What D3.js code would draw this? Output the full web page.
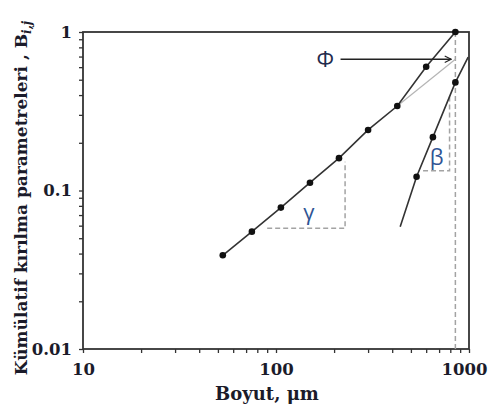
<!DOCTYPE html>
<html>
<head>
<meta charset="utf-8">
<script src="https://cdn.jsdelivr.net/npm/d3@7"></script>
<style>
  body { margin: 0; background: #fff; }
  svg { display: block; }
</style>
</head>
<body>
<div id="chart"></div>
<script>
// sieve sizes (um) and cumulative breakage parameters
var sizes = [53, 75, 106, 150, 212, 300, 425, 600, 850];
var bValues = [0.039, 0.055, 0.078, 0.112, 0.160, 0.241, 0.341, 0.604, 1.0];

// steep part (beta) points and the drawn line through them
var betaSizes = [535, 650, 850];
var betaValues = [0.122, 0.217, 0.481];
var betaLineX = [440, 535, 650, 850, 990];
var betaLineY = [0.059, 0.122, 0.217, 0.481, 0.695];

// extrapolated fine part, phi intercept
var phiLineX = [425, 850];
var phiLineY = [0.341, 0.673];
var phiValue = 0.673;
var topSize = 850;

// slope triangles
var gammaTriX = [90, 228, 228];
var gammaTriY = [0.0577, 0.0577, 0.152];
var betaTriX = [578, 793, 793];
var betaTriY = [0.133, 0.133, 0.395];

var xTicks = [10, 100, 1000];
var yTicks = [0.01, 0.1, 1];

var width = 490, height = 408;
var margin = {top: 32, right: 21, bottom: 59, left: 83};
var w = width - margin.left - margin.right,
    h = height - margin.top - margin.bottom;

var svg = d3.select('#chart').append('svg')
  .attr('width', width)
  .attr('height', height);

var g = svg.append('g')
  .attr('transform', 'translate(' + margin.left + ',' + margin.top + ')');

var x = d3.scaleLog().domain([10, 1000]).range([0, w]);
var y = d3.scaleLog().domain([0.01, 1]).range([h, 0]);

var serif = '"DejaVu Serif", serif';
var textClr = '#1b1b2a';

// minor ticks 2..9 in each decade
function minorTicks(lo, hi) {
  var out = [];
  for (var d = lo; d < hi; d *= 10) {
    for (var k = 1; k < 10; k++) out.push(d * k);
  }
  out.push(hi);
  return out;
}

var xAxis = d3.axisBottom(x)
  .tickValues(minorTicks(10, 1000))
  .tickSize(4)
  .tickPadding(10)
  .tickFormat(function(d) { return xTicks.indexOf(d) >= 0 ? d3.format('d')(d) : ''; });

var yAxis = d3.axisLeft(y)
  .tickValues(minorTicks(0.01, 1))
  .tickSize(4)
  .tickPadding(7)
  .tickFormat(function(d) {
    var hit = yTicks.filter(function(t) { return Math.abs(t - d) / t < 1e-6; });
    return hit.length ? String(hit[0]) : '';
  });

var gx = g.append('g')
  .attr('transform', 'translate(0,' + h + ')')
  .call(xAxis);
var gy = g.append('g').call(yAxis);

[gx, gy].forEach(function(ax) {
  ax.select('.domain').remove();
  ax.selectAll('.tick line').attr('stroke', '#333').attr('stroke-width', 1.3);
  ax.selectAll('.tick text')
    .attr('fill', textClr)
    .style('font-family', serif)
    .style('font-weight', 'bold')
    .style('font-size', '16.5px');
});

// 1000 label pushed inside the window like the original
gx.selectAll('.tick text').filter(function(d) { return d === 1000; })
  .attr('text-anchor', 'end')
  .attr('dx', 18);

// frame
g.append('rect')
  .attr('x', 0).attr('y', 0)
  .attr('width', w).attr('height', h)
  .attr('fill', 'none')
  .attr('stroke', '#333')
  .attr('stroke-width', 1.8);

var line = d3.line()
  .x(function(d) { return x(d[0]); })
  .y(function(d) { return y(d[1]); });

var dash = {stroke: '#a3a3a3', width: 1.5, array: '5,3'};

// vertical dashed line at the top size
g.append('path')
  .attr('d', line([[topSize, 1], [topSize, 0.01]]))
  .attr('fill', 'none')
  .attr('stroke', dash.stroke)
  .attr('stroke-width', dash.width)
  .attr('stroke-dasharray', dash.array);

// slope triangles
[[gammaTriX, gammaTriY], [betaTriX, betaTriY]].forEach(function(t) {
  g.append('path')
    .attr('d', line(d3.zip(t[0], t[1])))
    .attr('fill', 'none')
    .attr('stroke', dash.stroke)
    .attr('stroke-width', dash.width)
    .attr('stroke-dasharray', dash.array);
});

// extrapolated line towards phi
g.append('path')
  .attr('d', line(d3.zip(phiLineX, phiLineY)))
  .attr('fill', 'none')
  .attr('stroke', '#b5b5b5')
  .attr('stroke-width', 1.2);

// main curve
g.append('path')
  .attr('d', line(d3.zip(sizes, bValues)))
  .attr('fill', 'none')
  .attr('stroke', '#333')
  .attr('stroke-width', 1.6);

// beta line
g.append('path')
  .attr('d', line(d3.zip(betaLineX, betaLineY)))
  .attr('fill', 'none')
  .attr('stroke', '#333')
  .attr('stroke-width', 1.6);

// points
g.selectAll('circle.main')
  .data(d3.zip(sizes, bValues))
  .enter().append('circle')
  .attr('class', 'main')
  .attr('cx', function(d) { return x(d[0]); })
  .attr('cy', function(d) { return y(d[1]); })
  .attr('r', 3.3)
  .attr('fill', '#111');

g.selectAll('circle.beta')
  .data(d3.zip(betaSizes, betaValues))
  .enter().append('circle')
  .attr('class', 'beta')
  .attr('cx', function(d) { return x(d[0]); })
  .attr('cy', function(d) { return y(d[1]); })
  .attr('r', 3.3)
  .attr('fill', '#111');

// phi arrow
svg.append('defs').append('marker')
  .attr('id', 'arrow')
  .attr('viewBox', '0 0 10 10')
  .attr('refX', 9).attr('refY', 5)
  .attr('markerWidth', 8).attr('markerHeight', 8)
  .attr('markerUnits', 'userSpaceOnUse')
  .attr('orient', 'auto')
  .append('path')
  .attr('d', 'M1,1 L9,5 L1,9')
  .attr('fill', 'none')
  .attr('stroke', '#222')
  .attr('stroke-width', 1.4);

g.append('path')
  .attr('d', line([[216, phiValue], [808, phiValue]]))
  .attr('stroke', '#222')
  .attr('stroke-width', 1.5)
  .attr('marker-end', 'url(#arrow)');

// greek labels
var greek = [
  {t: '\u03A6', sx: 180, sy: phiValue, clr: '#1f2b4d'},
  {t: '\u03B3', sx: 148, sy: 0.0731, clr: '#2f5494'},
  {t: '\u03B2', sx: 680, sy: 0.163, clr: '#2f5494'}
];
g.selectAll('text.greek')
  .data(greek)
  .enter().append('text')
  .attr('class', 'greek')
  .attr('x', function(d) { return x(d.sx); })
  .attr('y', function(d) { return y(d.sy); })
  .attr('dy', '0.35em')
  .attr('text-anchor', 'middle')
  .attr('fill', function(d) { return d.clr; })
  .style('font-family', '"Open Sans", "DejaVu Sans", sans-serif')
  .style('font-size', '22px')
  .text(function(d) { return d.t; });

// axis titles
svg.append('text')
  .attr('x', 267)
  .attr('y', 400)
  .attr('text-anchor', 'middle')
  .attr('fill', textClr)
  .style('font-family', serif)
  .style('font-weight', 'bold')
  .style('font-size', '18px')
  .text('Boyut, \u03BCm');

var yt = svg.append('text')
  .attr('transform', 'translate(27,' + 198 + ') rotate(-90)')
  .attr('text-anchor', 'middle')
  .attr('fill', textClr)
  .style('font-family', serif)
  .style('font-weight', 'bold')
  .style('font-size', '17px');
yt.append('tspan').text('K\u00FCm\u00FClatif k\u0131r\u0131lma parametreleri , B');
yt.append('tspan')
  .attr('dy', 4)
  .style('font-size', '12px')
  .style('font-style', 'italic')
  .text('i,j');
</script>
</body>
</html>
